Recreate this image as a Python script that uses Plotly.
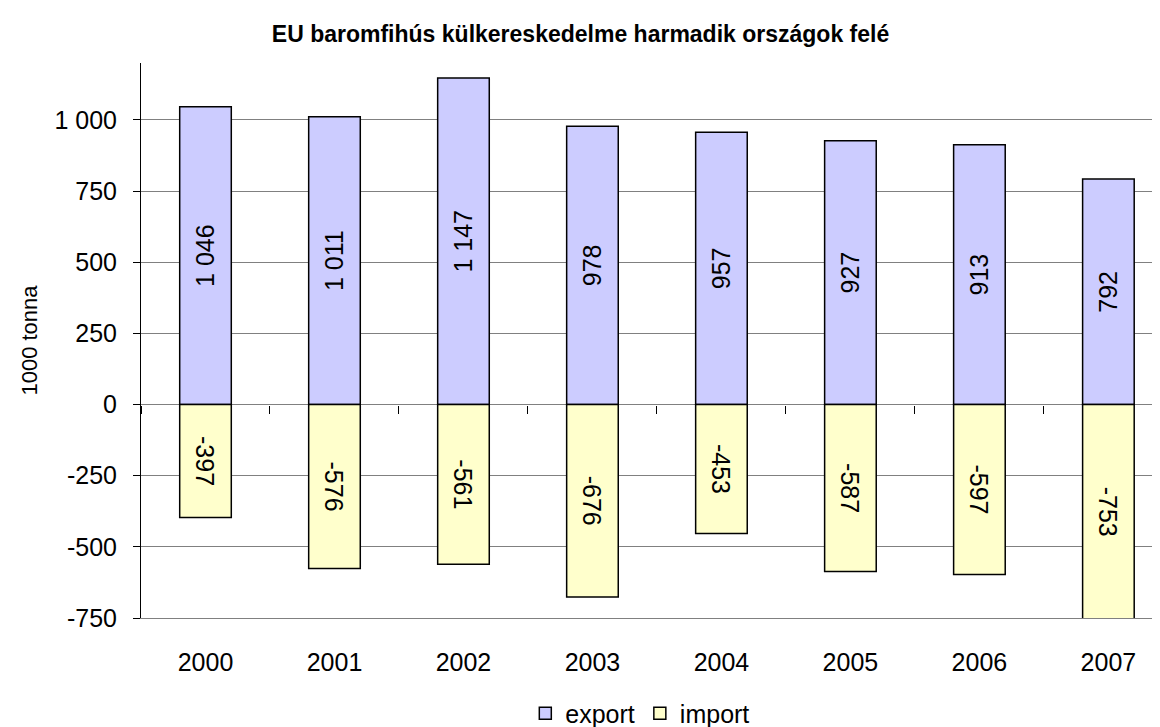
import plotly.graph_objects as go

# data (1000 tonna)
years = ["2000", "2001", "2002", "2003", "2004", "2005", "2006", "2007"]
export_vals = [1046, 1011, 1147, 978, 957, 927, 913, 792]
import_vals = [-397, -576, -561, -676, -453, -587, -597, -753]
y_ticks = [-750, -500, -250, 0, 250, 500, 750, 1000]

y_min, y_max = -750, 1200
font_main = "Liberation Sans, Arial, sans-serif"


def fmt(v):
    # hungarian style: space as thousands separator, plain hyphen for minus
    return f"{v:,}".replace(",", " ")


fig = go.Figure()

fig.add_trace(go.Bar(
    x=years, y=export_vals, name="export",
    marker=dict(color="#CCCCFF", line=dict(color="black", width=1.5)),
    width=0.4,
    text=[fmt(v) for v in export_vals],
    textposition="inside", insidetextanchor="middle", textangle=-90,
    constraintext="none",
    textfont=dict(size=25, color="black"),
    hoverinfo="x+y",
))

fig.add_trace(go.Bar(
    x=years, y=import_vals, name="import",
    marker=dict(color="#FFFFCC", line=dict(color="black", width=1.5)),
    width=0.4,
    text=[fmt(v) for v in import_vals],
    textposition="inside", insidetextanchor="middle", textangle=90,
    constraintext="none",
    textfont=dict(size=25, color="black"),
    hoverinfo="x+y",
))

# helper trace so the second x axis (ticks on the zero line) gets drawn
fig.add_trace(go.Scatter(
    x=years, y=[0] * len(years), xaxis="x2", mode="lines",
    line=dict(width=0), showlegend=False, hoverinfo="skip",
))

zero_pos = (0 - y_min) / (y_max - y_min)

# page body has an 8px default margin, so size the figure to fit the window
fig.update_layout(
    barmode="relative",
    width=1152, height=719,
    margin=dict(l=133, r=0, t=55, b=109, autoexpand=False),
    paper_bgcolor="white", plot_bgcolor="white",
    font=dict(family=font_main, size=25, color="black"),
    title=dict(
        text="<b>EU baromfihús külkereskedelme harmadik országok felé</b>",
        x=0.497, xanchor="center", y=0.964, yanchor="middle",
        font=dict(size=23),
    ),
    xaxis=dict(
        type="category", categoryorder="array", categoryarray=years,
        range=[-0.5, 7.4], automargin=False,
        showline=True, linecolor="#808080", linewidth=1.2,
        showgrid=False, ticks="",
        ticklabelstandoff=22,
        tickfont=dict(size=25),
    ),
    xaxis2=dict(
        type="category", categoryorder="array", categoryarray=years,
        overlaying="x", anchor="free", position=zero_pos,
        range=[-0.5, 7.4], automargin=False,
        tickson="boundaries",
        ticks="outside", ticklen=8, tickcolor="black", tickwidth=1,
        showticklabels=False, showline=False, showgrid=False, zeroline=False,
    ),
    yaxis=dict(
        range=[y_min, y_max], automargin=False,
        tickmode="array", tickvals=y_ticks, ticktext=[fmt(v) for v in y_ticks],
        showline=True, linecolor="black", linewidth=1,
        ticks="outside", ticklen=7, tickcolor="black",
        ticklabelstandoff=11,
        showgrid=True, gridcolor="#808080", gridwidth=1.2,
        zeroline=True, zerolinecolor="#808080", zerolinewidth=1.2,
        title=dict(text="1000 tonna", font=dict(size=22), standoff=10),
        tickfont=dict(size=25),
    ),
    showlegend=True,
    legend=dict(
        orientation="h", x=0.49, xanchor="center", y=-0.172, yanchor="middle",
        font=dict(size=25), itemwidth=30, traceorder="normal",
    ),
)

fig.write_html("out.html")
